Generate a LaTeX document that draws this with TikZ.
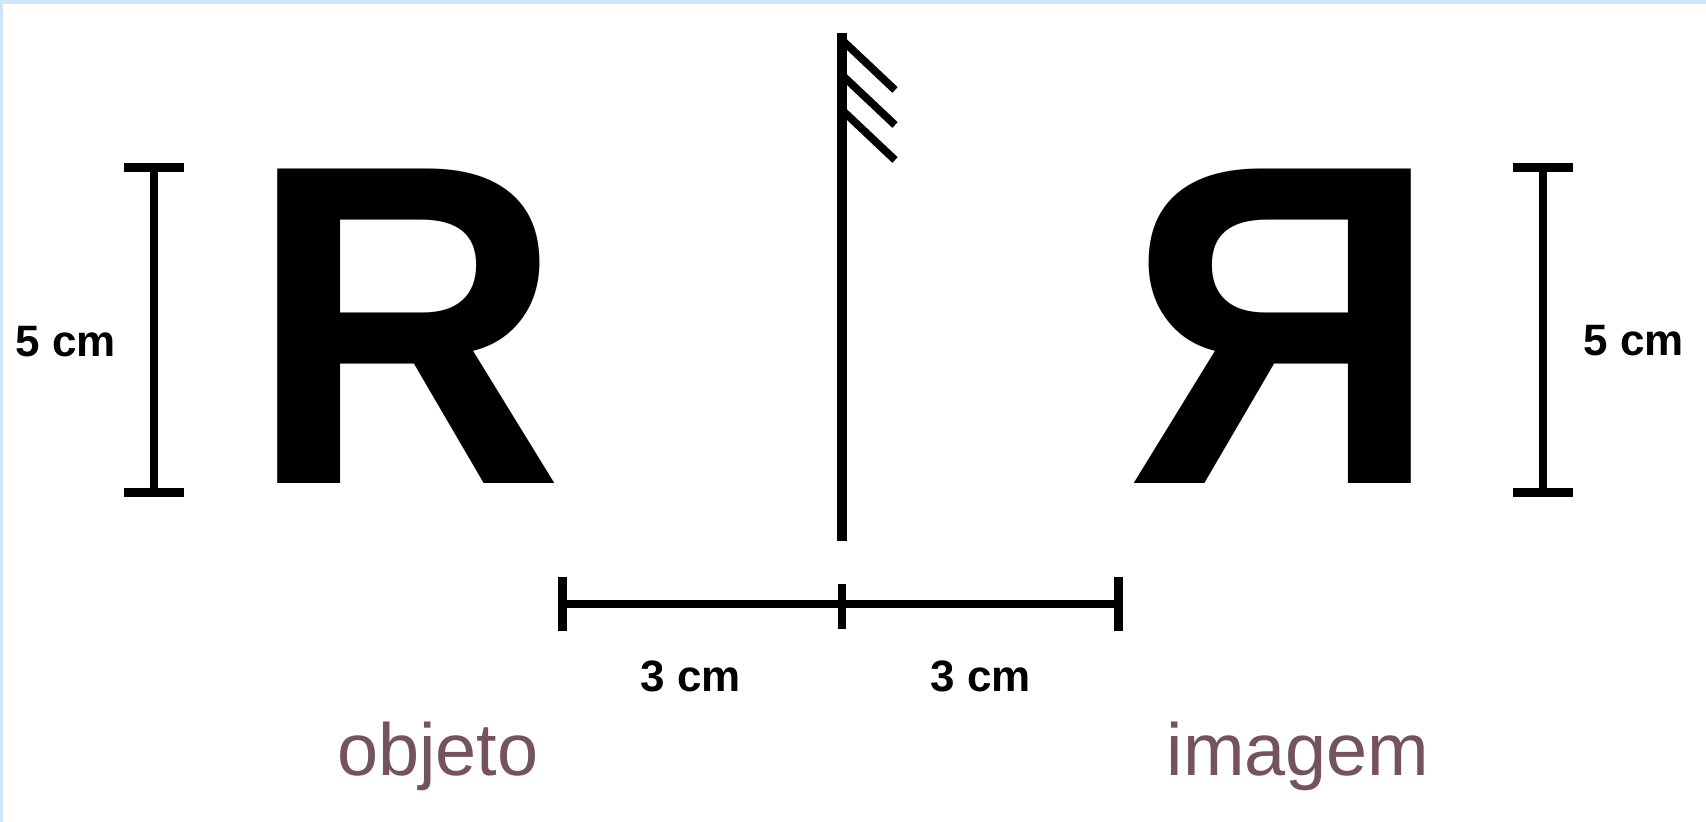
\documentclass[tikz,border=0pt]{standalone}
\usepackage{fontspec}
\setmainfont{Liberation Sans}
\usepackage{graphicx}
\usepackage{xcolor}
\usetikzlibrary{arrows.meta, positioning}
\definecolor{capt}{RGB}{116,84,90}
\definecolor{edge}{RGB}{206,229,250}

\begin{document}
\begin{tikzpicture}[
    x=0.01cm, y=-0.01cm,
    letter/.style={inner sep=0pt, anchor=base, font=\fontsize{130}{130}\selectfont\bfseries},
    dimlbl/.style={inner sep=0pt, anchor=base, font=\fontsize{12.5}{15}\selectfont\bfseries},
    caption/.style={inner sep=0pt, anchor=base, text=capt, font=\fontsize{21}{25}\selectfont},
    dimbar/.style={line width=2.5pt, {Bar[width=0.6cm]}-{Bar[width=0.6cm]}},
    gapbar/.style={line width=2.5pt, {Bar[width=0.54cm]}-{Bar[width=0.54cm]}},
    hatch/.style={line width=2.2pt},
]
  % Frame
  \fill[edge] (0,0) rectangle (1706,822);
  \fill[white] (3,4) rectangle (1706,822);
  \useasboundingbox (0,0) rectangle (1706,822);

  % Object and image
  \node[letter] (obj) at (406,484) {\scalebox{0.955}[1]{R}};
  \node[letter] (img) at (1283,484) {\scalebox{-0.955}[1]{R}};

  % Mirror
  \coordinate (mtop) at (842,33);
  \coordinate (mbot) at (842,541);
  \draw[line width=2.8pt] (mtop) -- (mbot);
  \foreach \y in {40,75,110}
    \draw[hatch] (842,\y) -- ++(53,50);

  % Heights
  \coordinate (lt) at (154,163);
  \coordinate (lb) at (154,497);
  \draw[dimbar] (lt) -- (lb);
  \node[dimlbl] (hl) at (66,357) {5 cm};
  \coordinate (rt) at (1543,163);
  \coordinate (rb) at (1543,497);
  \draw[dimbar] (rt) -- (rb);
  \node[dimlbl] (hr) at (1634,356) {5 cm};

  % Distances to the mirror
  \coordinate (dl) at (558,604);
  \coordinate (dr) at (1123,604);
  \coordinate (dmt) at (842,584);
  \coordinate (dmb) at (842,629);
  \draw[gapbar] (dl) -- (dr);
  \draw[line width=2.5pt] (dmt) -- (dmb);
  \node[dimlbl] (gl) at (691,692) {3 cm};
  \node[dimlbl] (gr) at (981,692) {3 cm};

  % Captions
  \node[caption] (cobj) at (438,775) {objeto};
  \node[caption] (cimg) at (1298,775) {imagem};
\end{tikzpicture}
\end{document}
